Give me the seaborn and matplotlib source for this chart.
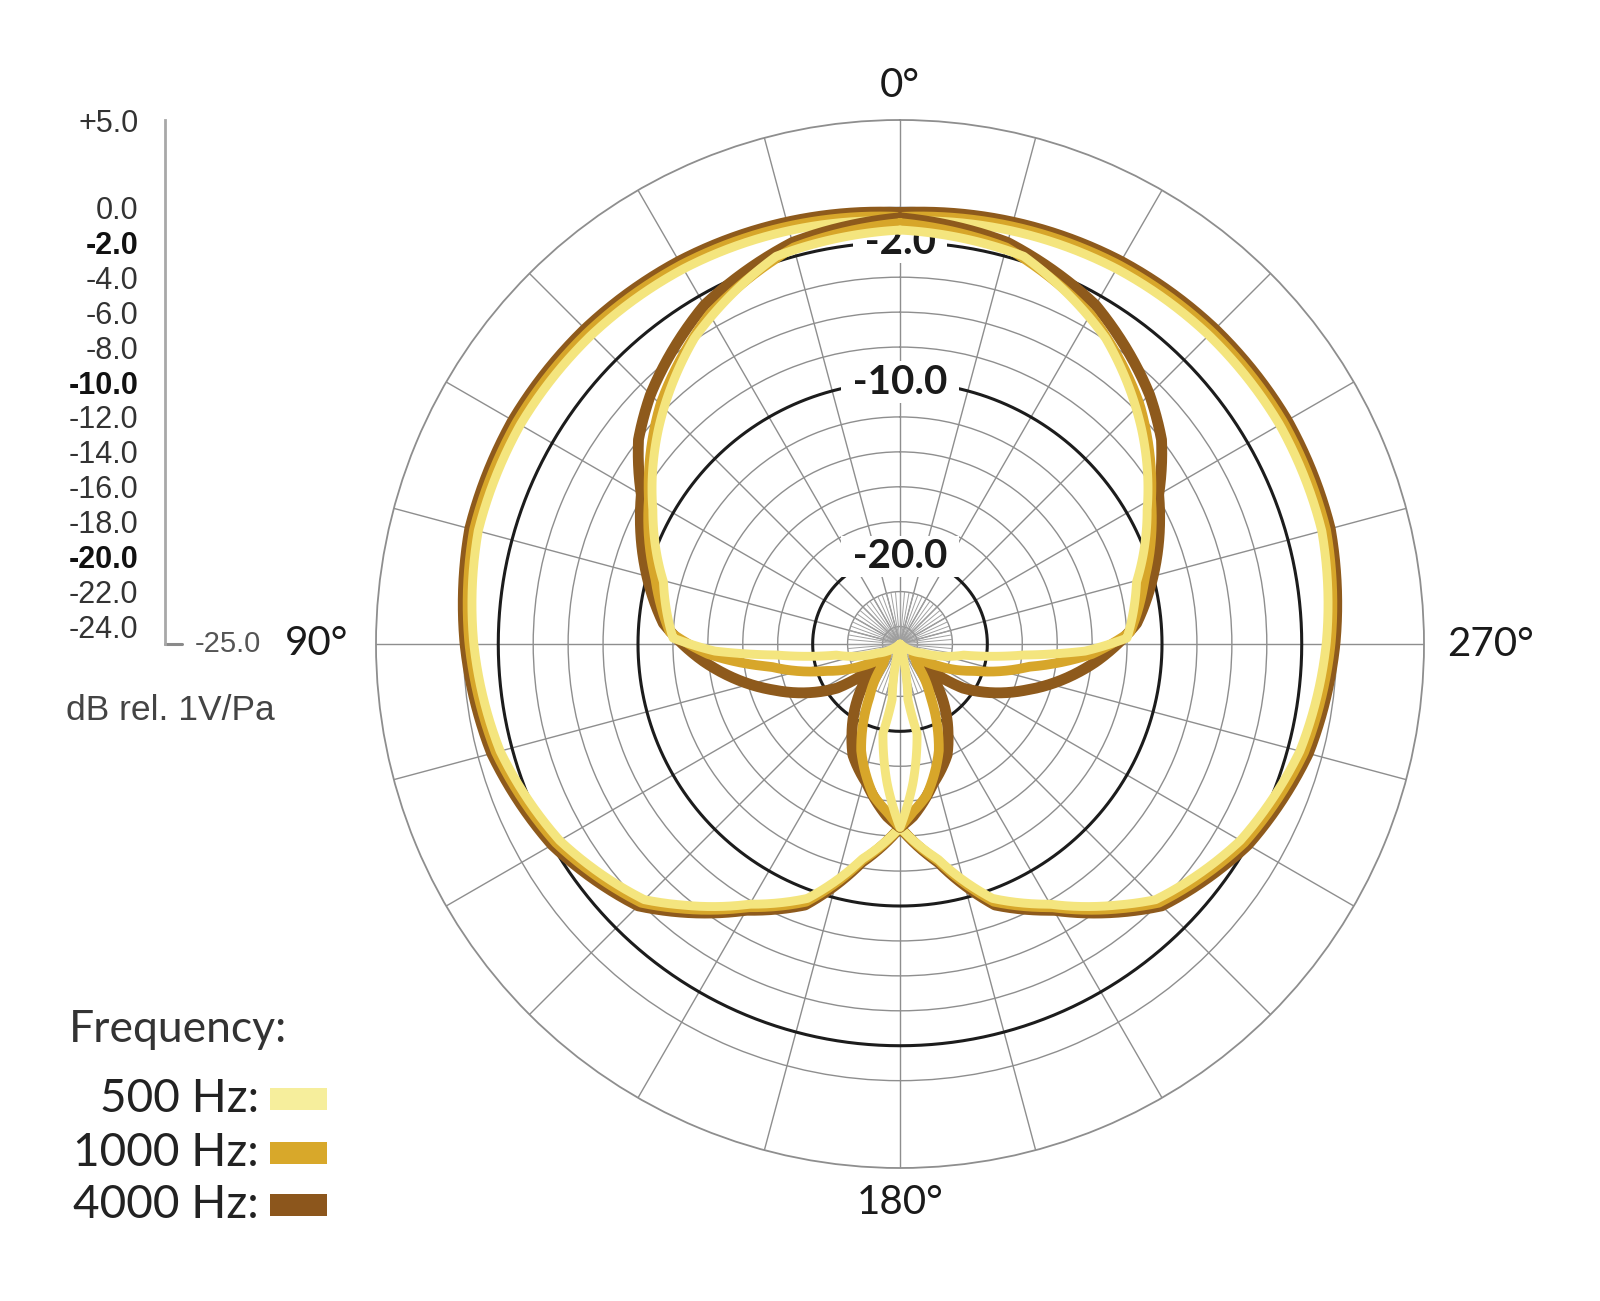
import numpy as np
import pandas as pd
import matplotlib
matplotlib.use("Agg")
import matplotlib.pyplot as plt
import seaborn as sns
from matplotlib.patches import Rectangle

# ------------------------------------------------------------------ data
FREQS = ["500 Hz", "1000 Hz", "4000 Hz"]
LINE_COLORS = {"500 Hz": "#F4E57E", "1000 Hz": "#D7A62A", "4000 Hz": "#8E5A1C"}
SWATCH_COLORS = {"500 Hz": "#F6EE9C", "1000 Hz": "#D8A82A", "4000 Hz": "#8C561C"}

# Left half (0° -> 180°) of each pattern, dB rel. 1V/Pa; patterns are symmetric
# about the 0°-180° axis.
# Pattern A: wide pattern
A_ANG = [0, 15, 30, 45, 60, 75, 90, 105, 120, 135, 140, 150, 160, 170, 180]
A_4000 = [-0.3, 0.0, 0.3, 0.5, 0.6, 0.5, -0.1, -0.8, -2.0, -3.8, -5.0, -7.4, -9.1, -12.3, -14.5]
A_1000 = [-0.55, -0.25, 0.05, 0.25, 0.35, 0.25, -0.35, -1.05, -2.25, -4.05, -5.25, -7.6, -9.3, -12.4, -14.5]
A_500 = [-0.8, -0.5, -0.2, 0.0, 0.1, 0.0, -0.6, -1.3, -2.5, -4.3, -5.5, -7.8, -9.5, -12.5, -14.5]

# Pattern B: narrow pattern with rear lobe
B4000_ANG = [0, 15, 30, 45, 52, 60, 75, 85, 95, 110, 125, 132, 142.5, 151.7, 157, 166.6, 175.7, 180]
B4000_DB = [-0.6, -1.2, -2.6, -4.8, -6.0, -7.9, -10.0, -11.4, -13.7, -17.3, -20.6, -23.0, -21.0, -19.2, -18.1, -16.8, -15.1, -14.5]
B1000_ANG = [0, 15, 30, 45, 60, 75, 87, 93, 100, 110, 120, 130, 140, 150, 160, 170, 176, 180]
B1000_DB = [-0.9, -1.5, -3.2, -5.6, -8.4, -10.5, -11.8, -14.0, -17.5, -20.5, -22.5, -24.0, -23.5, -21.5, -18.5, -16.2, -15.3, -14.5]
B500_ANG = [0, 17.7, 33.9, 48.4, 61.5, 75.3, 88.5, 92.2, 95.1, 99.9, 112, 130, 165, 171.9, 169.2, 174.7, 177.5, 180]
B500_DB = [-1.3, -1.7, -3.9, -6.5, -8.9, -11.0, -12.0, -14.4, -17.9, -21.3, -23.6, -25.0, -25.0, -21.8, -19.8, -17.0, -15.7, -14.5]

SCALE_MAJOR = [-2, -10, -20]
SCALE_MINOR = [5, 0, -4, -6, -8, -12, -14, -16, -18, -22, -24]
RING_LABELS = [-2, -10, -20]
ANGLE_LABELS = {0: "0°", 90: "90°", 180: "180°", 270: "270°"}

# ------------------------------------------------------------------ style
sns.set_theme(style="white")
plt.rcParams["font.family"] = ["Lato", "DejaVu Sans"]

W, H = 1600, 1301
fig = plt.figure(figsize=(W / 100, H / 100), dpi=100)
fig.patch.set_facecolor("white")

def fx(x):
    return x / W

def fy(y):
    return 1 - y / H

CX, CY, R = 900, 644, 524
ax = fig.add_axes([fx(CX - R), fy(CY + R), 2 * R / W, 2 * R / H], projection="polar")
ax.set_theta_zero_location("N")
ax.set_theta_direction(1)
ax.set_axisbelow(True)

GRID = "#8e8e8e"
ax.set_xticks(np.deg2rad(np.arange(0, 360, 15)))
ax.set_xticklabels([])
ax.set_yticks(list(range(-24, 1, 2)))
ax.set_yticklabels([])
ax.grid(True, color=GRID, lw=1.0)
ax.spines["polar"].set_color(GRID)
ax.spines["polar"].set_linewidth(1.3)

# dense inner spokes
for a in np.arange(0, 360, 5):
    ax.plot([np.deg2rad(a)] * 2, [-25, -22], color="#a0a0a0", lw=0.7, zorder=1)

# black reference rings
tt = np.linspace(0, 2 * np.pi, 721)
for r in RING_LABELS:
    ax.plot(tt, np.full_like(tt, r), color="#1c1c1c", lw=2.2, zorder=2)

for r in RING_LABELS:
    ax.text(0, r, f" {r:.1f} ", ha="center", va="center", fontsize=29,
            fontweight="bold", color="#1a1a1a", zorder=3,
            bbox=dict(facecolor="white", edgecolor="none", pad=1.5))


def draw(ang_left, db_left, color, lw, z):
    ang = list(ang_left) + [360 - a for a in reversed(ang_left)]
    db = list(db_left) + list(reversed(db_left))
    df = pd.DataFrame({"theta": np.deg2rad(ang), "db": db})
    n0 = len(ax.lines)
    sns.lineplot(data=df, x="theta", y="db", sort=False, estimator=None,
                 color=color, lw=lw, ax=ax, zorder=z,
                 solid_joinstyle="round", solid_capstyle="round", legend=False)
    for ln in ax.lines[n0:]:
        ln.get_path()._interpolation_steps = 80


A = {"4000 Hz": A_4000, "1000 Hz": A_1000, "500 Hz": A_500}
B = {"4000 Hz": (B4000_ANG, B4000_DB), "1000 Hz": (B1000_ANG, B1000_DB),
     "500 Hz": (B500_ANG, B500_DB)}
LW = {"4000 Hz": 7.8, "1000 Hz": 7.0, "500 Hz": 6.4}
z = 4
for f in ["4000 Hz", "1000 Hz", "500 Hz"]:
    draw(A_ANG, A[f], LINE_COLORS[f], LW[f], z)
    z += 1
for f in ["4000 Hz", "1000 Hz", "500 Hz"]:
    draw(B[f][0], B[f][1], LINE_COLORS[f], LW[f], z)
    z += 1

ax.set_xlabel("")
ax.set_ylabel("")
ax.set_xlim(0, 2 * np.pi)
ax.set_ylim(-25, 5)

# angle labels
ax.text(0, 7.0, ANGLE_LABELS[0], ha="center", va="center", fontsize=29, color="#1a1a1a", clip_on=False)
ax.text(np.pi, 6.95, ANGLE_LABELS[180], ha="center", va="center", fontsize=29, color="#1a1a1a", clip_on=False)
ax.text(np.pi / 2, 6.6, ANGLE_LABELS[90], ha="right", va="center", fontsize=29, color="#1a1a1a", clip_on=False)
ax.text(3 * np.pi / 2, 6.3, ANGLE_LABELS[270], ha="left", va="center", fontsize=29, color="#1a1a1a", clip_on=False)

# ------------------------------------------------------------------ left scale
ax2 = fig.add_axes([fx(165), fy(CY + R), 130 / W, 2 * R / H])
ax2.patch.set_visible(False)
ax2.set_xlim(0, 130)
ax2.set_ylim(-55, 5)
for s in ["top", "right", "bottom"]:
    ax2.spines[s].set_visible(False)
ax2.spines["left"].set_bounds(-25, 5)
ax2.spines["left"].set_color("#a8a8a8")
ax2.spines["left"].set_linewidth(2.0)
ax2.set_xticks([])
ax2.set_yticks(SCALE_MAJOR, labels=[f"{v:.1f}" for v in SCALE_MAJOR])
ax2.set_yticks(SCALE_MINOR, labels=[("+" if v > 0 else "") + f"{v:.1f}" for v in SCALE_MINOR], minor=True)
ax2.tick_params(axis="y", which="major", direction="inout", length=28, width=1.8,
                color="#111111", pad=5, labelsize=22, labelcolor="#111111")
ax2.tick_params(axis="y", which="minor", direction="out", length=13, width=1.4,
                color="#9a9a9a", pad=6, labelsize=22, labelcolor="#333333")
for lab in ax2.get_yticklabels():
    lab.set_fontfamily(["Liberation Sans", "DejaVu Sans"])
    lab.set_fontweight("bold")
for lab in ax2.get_yticklabels(minor=True):
    lab.set_fontfamily(["Liberation Sans", "DejaVu Sans"])
ax2.plot([0, 17], [-25, -25], color="#8a8a8a", lw=2.2, clip_on=False)
ax2.text(30, -25, "-25.0", ha="left", va="center", fontsize=21, color="#555555",
         family=["Liberation Sans", "DejaVu Sans"])

fig.text(fx(66), fy(710), "dB rel. 1V/Pa", ha="left", va="center", fontsize=25.5,
         color="#444444", family=["Liberation Sans", "DejaVu Sans"])

# ------------------------------------------------------------------ legend
fig.text(fx(69), fy(1029), "Frequency:", ha="left", va="center", fontsize=32, color="#333333")
for f, y in zip(FREQS, [1099, 1153, 1205]):
    fig.text(fx(259), fy(y), f + ":", ha="right", va="center", fontsize=33, color="#222222")
    fig.patches.append(Rectangle((fx(270), fy(y + 11)), 57 / W, 22 / H,
                                 transform=fig.transFigure, facecolor=SWATCH_COLORS[f],
                                 edgecolor="none"))

fig.savefig("out.png", dpi=100)
